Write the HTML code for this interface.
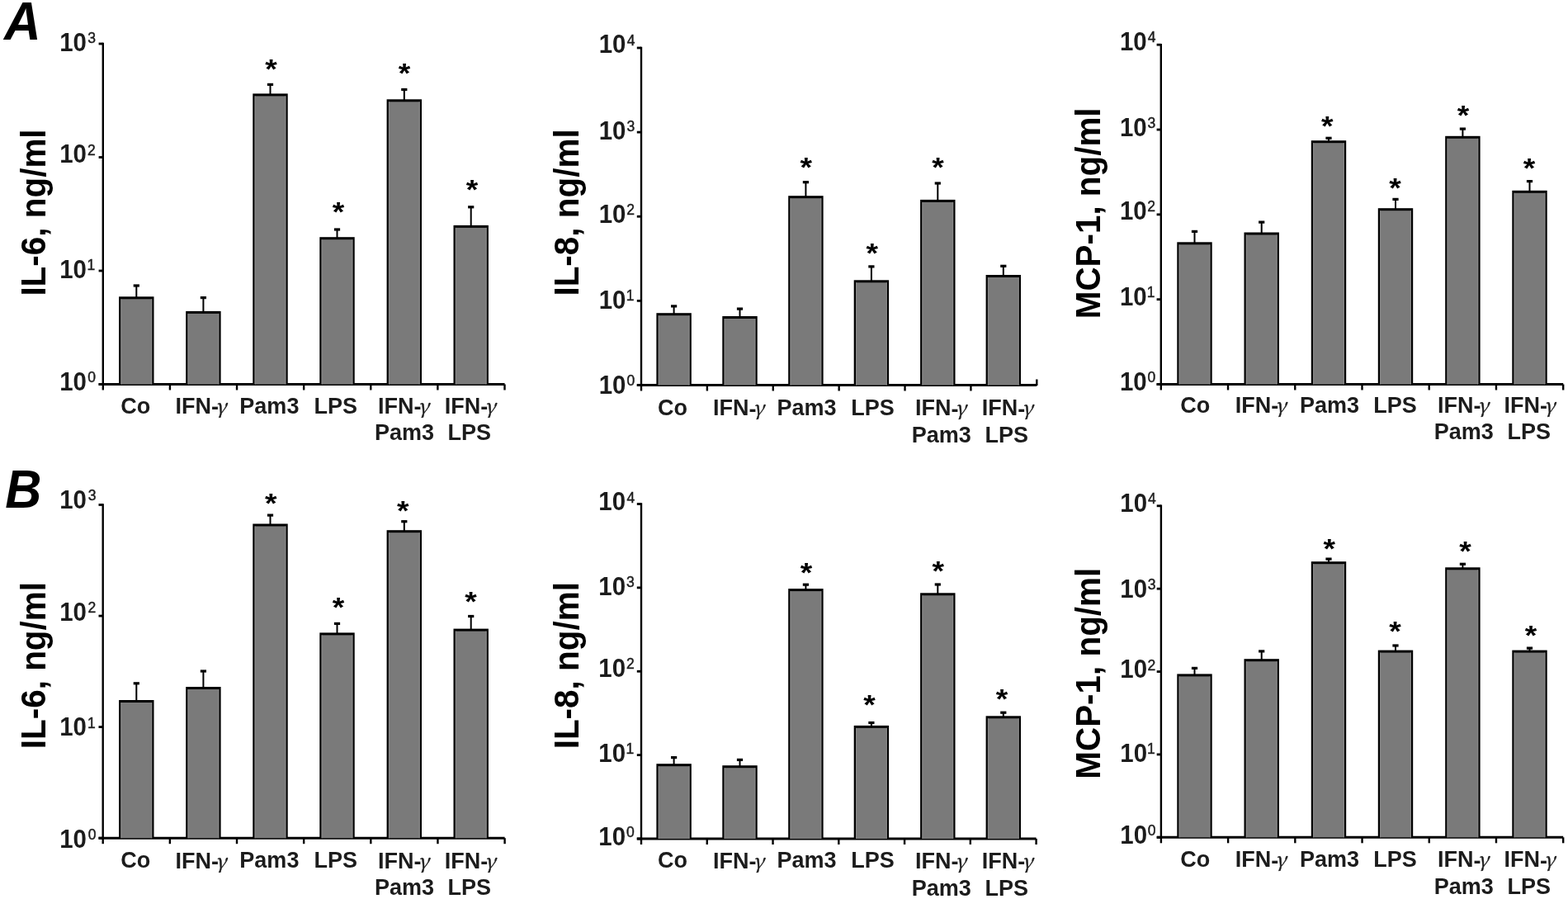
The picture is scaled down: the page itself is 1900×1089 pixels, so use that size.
<!DOCTYPE html>
<html><head><meta charset="utf-8"><title>Cytokine bar charts</title>
<style>html,body{margin:0;padding:0;background:#fff;} svg{display:block;} text{font-family:'Liberation Sans', Arial, Helvetica, sans-serif;}</style>
</head><body>
<svg width="1900" height="1089" viewBox="0 0 1900 1089">
<rect width="1900" height="1089" fill="#fff"/>
<line x1="124.80" y1="51.80" x2="124.80" y2="465.50" stroke="#000" stroke-width="2.4"/>
<line x1="119.60" y1="53.00" x2="124.80" y2="53.00" stroke="#000" stroke-width="2.8"/>
<line x1="119.60" y1="190.50" x2="124.80" y2="190.50" stroke="#000" stroke-width="2.8"/>
<line x1="119.60" y1="328.00" x2="124.80" y2="328.00" stroke="#000" stroke-width="2.8"/>
<line x1="119.60" y1="465.50" x2="124.80" y2="465.50" stroke="#000" stroke-width="2.8"/>
<line x1="119.60" y1="465.50" x2="611.50" y2="465.50" stroke="#000" stroke-width="3.0"/>
<line x1="124.80" y1="465.50" x2="124.80" y2="472.50" stroke="#000" stroke-width="2.4"/>
<line x1="205.92" y1="465.50" x2="205.92" y2="472.50" stroke="#000" stroke-width="2.4"/>
<line x1="287.03" y1="465.50" x2="287.03" y2="472.50" stroke="#000" stroke-width="2.4"/>
<line x1="368.15" y1="465.50" x2="368.15" y2="472.50" stroke="#000" stroke-width="2.4"/>
<line x1="449.27" y1="465.50" x2="449.27" y2="472.50" stroke="#000" stroke-width="2.4"/>
<line x1="530.38" y1="465.50" x2="530.38" y2="472.50" stroke="#000" stroke-width="2.4"/>
<line x1="611.50" y1="465.50" x2="611.50" y2="472.50" stroke="#000" stroke-width="2.4"/>
<line x1="165.30" y1="346.00" x2="165.30" y2="360.30" stroke="#000" stroke-width="2.0"/>
<rect x="161.70" y="344.40" width="7.20" height="3.20" fill="#000"/>
<rect x="144.10" y="359.30" width="42.40" height="106.20" fill="#000"/>
<rect x="146.40" y="362.30" width="37.80" height="103.20" fill="#7a7a7a"/>
<rect x="146.40" y="362.30" width="1.1" height="103.20" fill="#888"/>
<rect x="183.10" y="362.30" width="1.1" height="103.20" fill="#888"/>
<line x1="246.40" y1="360.60" x2="246.40" y2="377.90" stroke="#000" stroke-width="2.0"/>
<rect x="242.80" y="359.00" width="7.20" height="3.20" fill="#000"/>
<rect x="225.20" y="376.90" width="42.40" height="88.60" fill="#000"/>
<rect x="227.50" y="379.90" width="37.80" height="85.60" fill="#7a7a7a"/>
<rect x="227.50" y="379.90" width="1.1" height="85.60" fill="#888"/>
<rect x="264.20" y="379.90" width="1.1" height="85.60" fill="#888"/>
<line x1="327.50" y1="102.40" x2="327.50" y2="114.40" stroke="#000" stroke-width="2.0"/>
<rect x="323.90" y="100.80" width="7.20" height="3.20" fill="#000"/>
<rect x="306.30" y="113.40" width="42.40" height="352.10" fill="#000"/>
<rect x="308.60" y="116.40" width="37.80" height="349.10" fill="#7a7a7a"/>
<rect x="308.60" y="116.40" width="1.1" height="349.10" fill="#888"/>
<rect x="345.30" y="116.40" width="1.1" height="349.10" fill="#888"/>
<text transform="translate(321.13,95.12) scale(1.05,0.96)" font-size="35.5" font-weight="bold" fill="#000">*</text>
<line x1="408.50" y1="278.00" x2="408.50" y2="288.20" stroke="#000" stroke-width="2.0"/>
<rect x="404.90" y="276.40" width="7.20" height="3.20" fill="#000"/>
<rect x="387.30" y="287.20" width="42.40" height="178.30" fill="#000"/>
<rect x="389.60" y="290.20" width="37.80" height="175.30" fill="#7a7a7a"/>
<rect x="389.60" y="290.20" width="1.1" height="175.30" fill="#888"/>
<rect x="426.30" y="290.20" width="1.1" height="175.30" fill="#888"/>
<text transform="translate(402.63,267.52) scale(1.05,0.96)" font-size="35.5" font-weight="bold" fill="#000">*</text>
<line x1="489.80" y1="108.50" x2="489.80" y2="121.30" stroke="#000" stroke-width="2.0"/>
<rect x="486.20" y="106.90" width="7.20" height="3.20" fill="#000"/>
<rect x="468.60" y="120.30" width="42.40" height="345.20" fill="#000"/>
<rect x="470.90" y="123.30" width="37.80" height="342.20" fill="#7a7a7a"/>
<rect x="470.90" y="123.30" width="1.1" height="342.20" fill="#888"/>
<rect x="507.60" y="123.30" width="1.1" height="342.20" fill="#888"/>
<text transform="translate(482.63,100.32) scale(1.05,0.96)" font-size="35.5" font-weight="bold" fill="#000">*</text>
<line x1="570.70" y1="250.80" x2="570.70" y2="273.90" stroke="#000" stroke-width="2.0"/>
<rect x="567.10" y="249.20" width="7.20" height="3.20" fill="#000"/>
<rect x="549.50" y="272.90" width="42.40" height="192.60" fill="#000"/>
<rect x="551.80" y="275.90" width="37.80" height="189.60" fill="#7a7a7a"/>
<rect x="551.80" y="275.90" width="1.1" height="189.60" fill="#888"/>
<rect x="588.50" y="275.90" width="1.1" height="189.60" fill="#888"/>
<text transform="translate(564.83,241.02) scale(1.05,0.96)" font-size="35.5" font-weight="bold" fill="#000">*</text>
<text transform="translate(72.13,61.59) scale(0.95,1)" font-size="31.0" font-weight="bold" fill="#1c1c1c">10</text>
<text x="106.20" y="51.73" font-size="17.5" font-weight="normal" fill="#1c1c1c" stroke="#1c1c1c" stroke-width="0.45">3</text>
<text transform="translate(72.13,197.19) scale(0.95,1)" font-size="31.0" font-weight="bold" fill="#1c1c1c">10</text>
<text x="106.03" y="187.50" font-size="17.5" font-weight="normal" fill="#1c1c1c" stroke="#1c1c1c" stroke-width="0.45">2</text>
<text transform="translate(72.13,336.89) scale(0.95,1)" font-size="31.0" font-weight="bold" fill="#1c1c1c">10</text>
<text x="105.50" y="327.20" font-size="17.5" font-weight="normal" fill="#1c1c1c" stroke="#1c1c1c" stroke-width="0.45">1</text>
<text transform="translate(72.13,472.89) scale(0.95,1)" font-size="31.0" font-weight="bold" fill="#1c1c1c">10</text>
<text x="106.20" y="463.02" font-size="17.5" font-weight="normal" fill="#1c1c1c" stroke="#1c1c1c" stroke-width="0.45">0</text>
<text x="146.24" y="500.50" font-size="27.0" font-weight="bold" font-style="normal" fill="#1c1c1c">Co</text>
<text x="212.60" y="500.80" font-size="27.0" font-weight="bold" fill="#1c1c1c">IFN<tspan dy="1.5">-</tspan><tspan dy="-1.5" dx="-4" font-family="'Noto Serif CJK SC', 'Liberation Serif', serif" font-style="italic" font-weight="normal" font-size="24.5" stroke="#1c1c1c" stroke-width="0.5">γ</tspan></text>
<text x="290.35" y="500.50" font-size="27.0" font-weight="bold" font-style="normal" fill="#1c1c1c">Pam3</text>
<text x="380.41" y="500.50" font-size="27.0" font-weight="bold" font-style="normal" fill="#1c1c1c">LPS</text>
<text x="458.00" y="500.80" font-size="27.0" font-weight="bold" fill="#1c1c1c">IFN<tspan dy="1.5">-</tspan><tspan dy="-1.5" dx="-4" font-family="'Noto Serif CJK SC', 'Liberation Serif', serif" font-style="italic" font-weight="normal" font-size="24.5" stroke="#1c1c1c" stroke-width="0.5">γ</tspan></text>
<text x="453.95" y="533.10" font-size="27.0" font-weight="bold" font-style="normal" fill="#1c1c1c">Pam3</text>
<text x="538.80" y="500.80" font-size="27.0" font-weight="bold" fill="#1c1c1c">IFN<tspan dy="1.5">-</tspan><tspan dy="-1.5" dx="-4" font-family="'Noto Serif CJK SC', 'Liberation Serif', serif" font-style="italic" font-weight="normal" font-size="24.5" stroke="#1c1c1c" stroke-width="0.5">γ</tspan></text>
<text x="542.61" y="533.10" font-size="27.0" font-weight="bold" font-style="normal" fill="#1c1c1c">LPS</text>
<text transform="translate(54.50,358.62) rotate(-90) scale(1,1.035)" x="0" y="0" font-size="40.45" font-weight="bold" fill="#000">IL-6, ng/ml</text>
<line x1="777.00" y1="56.80" x2="777.00" y2="466.50" stroke="#000" stroke-width="2.4"/>
<line x1="771.80" y1="58.00" x2="777.00" y2="58.00" stroke="#000" stroke-width="2.8"/>
<line x1="771.80" y1="160.12" x2="777.00" y2="160.12" stroke="#000" stroke-width="2.8"/>
<line x1="771.80" y1="262.25" x2="777.00" y2="262.25" stroke="#000" stroke-width="2.8"/>
<line x1="771.80" y1="364.38" x2="777.00" y2="364.38" stroke="#000" stroke-width="2.8"/>
<line x1="771.80" y1="466.50" x2="777.00" y2="466.50" stroke="#000" stroke-width="2.8"/>
<line x1="771.80" y1="466.50" x2="1256.30" y2="466.50" stroke="#000" stroke-width="3.0"/>
<line x1="777.00" y1="466.50" x2="777.00" y2="473.50" stroke="#000" stroke-width="2.4"/>
<line x1="856.88" y1="466.50" x2="856.88" y2="473.50" stroke="#000" stroke-width="2.4"/>
<line x1="936.77" y1="466.50" x2="936.77" y2="473.50" stroke="#000" stroke-width="2.4"/>
<line x1="1016.65" y1="466.50" x2="1016.65" y2="473.50" stroke="#000" stroke-width="2.4"/>
<line x1="1096.53" y1="466.50" x2="1096.53" y2="473.50" stroke="#000" stroke-width="2.4"/>
<line x1="1176.42" y1="466.50" x2="1176.42" y2="473.50" stroke="#000" stroke-width="2.4"/>
<line x1="1256.30" y1="459.50" x2="1256.30" y2="467.00" stroke="#000" stroke-width="2.4"/>
<line x1="816.60" y1="370.90" x2="816.60" y2="380.20" stroke="#000" stroke-width="2.0"/>
<rect x="813.00" y="369.30" width="7.20" height="3.20" fill="#000"/>
<rect x="795.40" y="379.20" width="42.40" height="87.30" fill="#000"/>
<rect x="797.70" y="382.20" width="37.80" height="84.30" fill="#7a7a7a"/>
<rect x="797.70" y="382.20" width="1.1" height="84.30" fill="#888"/>
<rect x="834.40" y="382.20" width="1.1" height="84.30" fill="#888"/>
<line x1="896.50" y1="374.10" x2="896.50" y2="384.00" stroke="#000" stroke-width="2.0"/>
<rect x="892.90" y="372.50" width="7.20" height="3.20" fill="#000"/>
<rect x="875.30" y="383.00" width="42.40" height="83.50" fill="#000"/>
<rect x="877.60" y="386.00" width="37.80" height="80.50" fill="#7a7a7a"/>
<rect x="877.60" y="386.00" width="1.1" height="80.50" fill="#888"/>
<rect x="914.30" y="386.00" width="1.1" height="80.50" fill="#888"/>
<line x1="976.40" y1="220.70" x2="976.40" y2="238.20" stroke="#000" stroke-width="2.0"/>
<rect x="972.80" y="219.10" width="7.20" height="3.20" fill="#000"/>
<rect x="955.20" y="237.20" width="42.40" height="229.30" fill="#000"/>
<rect x="957.50" y="240.20" width="37.80" height="226.30" fill="#7a7a7a"/>
<rect x="957.50" y="240.20" width="1.1" height="226.30" fill="#888"/>
<rect x="994.20" y="240.20" width="1.1" height="226.30" fill="#888"/>
<text transform="translate(969.58,214.42) scale(1.05,0.96)" font-size="35.5" font-weight="bold" fill="#000">*</text>
<line x1="1055.90" y1="322.90" x2="1055.90" y2="340.30" stroke="#000" stroke-width="2.0"/>
<rect x="1052.30" y="321.30" width="7.20" height="3.20" fill="#000"/>
<rect x="1034.70" y="339.30" width="42.40" height="127.20" fill="#000"/>
<rect x="1037.00" y="342.30" width="37.80" height="124.20" fill="#7a7a7a"/>
<rect x="1037.00" y="342.30" width="1.1" height="124.20" fill="#888"/>
<rect x="1073.70" y="342.30" width="1.1" height="124.20" fill="#888"/>
<text transform="translate(1049.53,318.42) scale(1.05,0.96)" font-size="35.5" font-weight="bold" fill="#000">*</text>
<line x1="1136.30" y1="222.00" x2="1136.30" y2="242.90" stroke="#000" stroke-width="2.0"/>
<rect x="1132.70" y="220.40" width="7.20" height="3.20" fill="#000"/>
<rect x="1115.10" y="241.90" width="42.40" height="224.60" fill="#000"/>
<rect x="1117.40" y="244.90" width="37.80" height="221.60" fill="#7a7a7a"/>
<rect x="1117.40" y="244.90" width="1.1" height="221.60" fill="#888"/>
<rect x="1154.10" y="244.90" width="1.1" height="221.60" fill="#888"/>
<text transform="translate(1129.18,214.42) scale(1.05,0.96)" font-size="35.5" font-weight="bold" fill="#000">*</text>
<line x1="1215.80" y1="322.30" x2="1215.80" y2="334.00" stroke="#000" stroke-width="2.0"/>
<rect x="1212.20" y="320.70" width="7.20" height="3.20" fill="#000"/>
<rect x="1194.60" y="333.00" width="42.40" height="133.50" fill="#000"/>
<rect x="1196.90" y="336.00" width="37.80" height="130.50" fill="#7a7a7a"/>
<rect x="1196.90" y="336.00" width="1.1" height="130.50" fill="#888"/>
<rect x="1233.60" y="336.00" width="1.1" height="130.50" fill="#888"/>
<text transform="translate(725.63,64.49) scale(0.95,1)" font-size="31.0" font-weight="bold" fill="#1c1c1c">10</text>
<text x="759.75" y="54.97" font-size="17.5" font-weight="normal" fill="#1c1c1c" stroke="#1c1c1c" stroke-width="0.45">4</text>
<text transform="translate(725.63,168.89) scale(0.95,1)" font-size="31.0" font-weight="bold" fill="#1c1c1c">10</text>
<text x="759.40" y="159.02" font-size="17.5" font-weight="normal" fill="#1c1c1c" stroke="#1c1c1c" stroke-width="0.45">3</text>
<text transform="translate(725.63,269.99) scale(0.95,1)" font-size="31.0" font-weight="bold" fill="#1c1c1c">10</text>
<text x="759.23" y="260.30" font-size="17.5" font-weight="normal" fill="#1c1c1c" stroke="#1c1c1c" stroke-width="0.45">2</text>
<text transform="translate(725.63,374.09) scale(0.95,1)" font-size="31.0" font-weight="bold" fill="#1c1c1c">10</text>
<text x="758.70" y="364.40" font-size="17.5" font-weight="normal" fill="#1c1c1c" stroke="#1c1c1c" stroke-width="0.45">1</text>
<text transform="translate(725.63,476.89) scale(0.95,1)" font-size="31.0" font-weight="bold" fill="#1c1c1c">10</text>
<text x="759.40" y="467.02" font-size="17.5" font-weight="normal" fill="#1c1c1c" stroke="#1c1c1c" stroke-width="0.45">0</text>
<text x="797.04" y="502.80" font-size="27.0" font-weight="bold" font-style="normal" fill="#1c1c1c">Co</text>
<text x="863.95" y="503.10" font-size="27.0" font-weight="bold" fill="#1c1c1c">IFN<tspan dy="1.5">-</tspan><tspan dy="-1.5" dx="-4" font-family="'Noto Serif CJK SC', 'Liberation Serif', serif" font-style="italic" font-weight="normal" font-size="24.5" stroke="#1c1c1c" stroke-width="0.5">γ</tspan></text>
<text x="941.55" y="502.80" font-size="27.0" font-weight="bold" font-style="normal" fill="#1c1c1c">Pam3</text>
<text x="1031.15" y="502.80" font-size="27.0" font-weight="bold" font-style="normal" fill="#1c1c1c">LPS</text>
<text x="1108.95" y="503.10" font-size="27.0" font-weight="bold" fill="#1c1c1c">IFN<tspan dy="1.5">-</tspan><tspan dy="-1.5" dx="-4" font-family="'Noto Serif CJK SC', 'Liberation Serif', serif" font-style="italic" font-weight="normal" font-size="24.5" stroke="#1c1c1c" stroke-width="0.5">γ</tspan></text>
<text x="1104.70" y="535.90" font-size="27.0" font-weight="bold" font-style="normal" fill="#1c1c1c">Pam3</text>
<text x="1189.65" y="503.10" font-size="27.0" font-weight="bold" fill="#1c1c1c">IFN<tspan dy="1.5">-</tspan><tspan dy="-1.5" dx="-4" font-family="'Noto Serif CJK SC', 'Liberation Serif', serif" font-style="italic" font-weight="normal" font-size="24.5" stroke="#1c1c1c" stroke-width="0.5">γ</tspan></text>
<text x="1193.61" y="535.90" font-size="27.0" font-weight="bold" font-style="normal" fill="#1c1c1c">LPS</text>
<text transform="translate(701.30,358.57) rotate(-90) scale(1,1.035)" x="0" y="0" font-size="40.45" font-weight="bold" fill="#000">IL-8, ng/ml</text>
<line x1="1406.80" y1="53.00" x2="1406.80" y2="465.50" stroke="#000" stroke-width="2.4"/>
<line x1="1401.60" y1="54.20" x2="1406.80" y2="54.20" stroke="#000" stroke-width="2.8"/>
<line x1="1401.60" y1="157.03" x2="1406.80" y2="157.03" stroke="#000" stroke-width="2.8"/>
<line x1="1401.60" y1="259.85" x2="1406.80" y2="259.85" stroke="#000" stroke-width="2.8"/>
<line x1="1401.60" y1="362.68" x2="1406.80" y2="362.68" stroke="#000" stroke-width="2.8"/>
<line x1="1401.60" y1="465.50" x2="1406.80" y2="465.50" stroke="#000" stroke-width="2.8"/>
<line x1="1401.60" y1="465.50" x2="1894.20" y2="465.50" stroke="#000" stroke-width="3.0"/>
<line x1="1406.80" y1="465.50" x2="1406.80" y2="472.50" stroke="#000" stroke-width="2.4"/>
<line x1="1488.03" y1="465.50" x2="1488.03" y2="472.50" stroke="#000" stroke-width="2.4"/>
<line x1="1569.27" y1="465.50" x2="1569.27" y2="472.50" stroke="#000" stroke-width="2.4"/>
<line x1="1650.50" y1="465.50" x2="1650.50" y2="472.50" stroke="#000" stroke-width="2.4"/>
<line x1="1731.73" y1="465.50" x2="1731.73" y2="472.50" stroke="#000" stroke-width="2.4"/>
<line x1="1812.97" y1="465.50" x2="1812.97" y2="472.50" stroke="#000" stroke-width="2.4"/>
<line x1="1894.20" y1="465.50" x2="1894.20" y2="472.50" stroke="#000" stroke-width="2.4"/>
<line x1="1447.50" y1="280.40" x2="1447.50" y2="294.30" stroke="#000" stroke-width="2.0"/>
<rect x="1443.90" y="278.80" width="7.20" height="3.20" fill="#000"/>
<rect x="1426.30" y="293.30" width="42.40" height="172.20" fill="#000"/>
<rect x="1428.60" y="296.30" width="37.80" height="169.20" fill="#7a7a7a"/>
<rect x="1428.60" y="296.30" width="1.1" height="169.20" fill="#888"/>
<rect x="1465.30" y="296.30" width="1.1" height="169.20" fill="#888"/>
<line x1="1528.70" y1="269.10" x2="1528.70" y2="282.50" stroke="#000" stroke-width="2.0"/>
<rect x="1525.10" y="267.50" width="7.20" height="3.20" fill="#000"/>
<rect x="1507.50" y="281.50" width="42.40" height="184.00" fill="#000"/>
<rect x="1509.80" y="284.50" width="37.80" height="181.00" fill="#7a7a7a"/>
<rect x="1509.80" y="284.50" width="1.1" height="181.00" fill="#888"/>
<rect x="1546.50" y="284.50" width="1.1" height="181.00" fill="#888"/>
<line x1="1610.00" y1="167.30" x2="1610.00" y2="171.20" stroke="#000" stroke-width="2.0"/>
<rect x="1606.40" y="165.70" width="7.20" height="3.20" fill="#000"/>
<rect x="1588.80" y="170.20" width="42.40" height="295.30" fill="#000"/>
<rect x="1591.10" y="173.20" width="37.80" height="292.30" fill="#7a7a7a"/>
<rect x="1591.10" y="173.20" width="1.1" height="292.30" fill="#888"/>
<rect x="1627.80" y="173.20" width="1.1" height="292.30" fill="#888"/>
<text transform="translate(1600.93,163.52) scale(1.05,0.96)" font-size="35.5" font-weight="bold" fill="#000">*</text>
<line x1="1691.00" y1="241.40" x2="1691.00" y2="253.20" stroke="#000" stroke-width="2.0"/>
<rect x="1687.40" y="239.80" width="7.20" height="3.20" fill="#000"/>
<rect x="1669.80" y="252.20" width="42.40" height="213.30" fill="#000"/>
<rect x="1672.10" y="255.20" width="37.80" height="210.30" fill="#7a7a7a"/>
<rect x="1672.10" y="255.20" width="1.1" height="210.30" fill="#888"/>
<rect x="1708.80" y="255.20" width="1.1" height="210.30" fill="#888"/>
<text transform="translate(1683.23,238.52) scale(1.05,0.96)" font-size="35.5" font-weight="bold" fill="#000">*</text>
<line x1="1772.40" y1="156.10" x2="1772.40" y2="165.80" stroke="#000" stroke-width="2.0"/>
<rect x="1768.80" y="154.50" width="7.20" height="3.20" fill="#000"/>
<rect x="1751.20" y="164.80" width="42.40" height="300.70" fill="#000"/>
<rect x="1753.50" y="167.80" width="37.80" height="297.70" fill="#7a7a7a"/>
<rect x="1753.50" y="167.80" width="1.1" height="297.70" fill="#888"/>
<rect x="1790.20" y="167.80" width="1.1" height="297.70" fill="#888"/>
<text transform="translate(1765.73,151.22) scale(1.05,0.96)" font-size="35.5" font-weight="bold" fill="#000">*</text>
<line x1="1853.50" y1="219.60" x2="1853.50" y2="231.80" stroke="#000" stroke-width="2.0"/>
<rect x="1849.90" y="218.00" width="7.20" height="3.20" fill="#000"/>
<rect x="1832.30" y="230.80" width="42.40" height="234.70" fill="#000"/>
<rect x="1834.60" y="233.80" width="37.80" height="231.70" fill="#7a7a7a"/>
<rect x="1834.60" y="233.80" width="1.1" height="231.70" fill="#888"/>
<rect x="1871.30" y="233.80" width="1.1" height="231.70" fill="#888"/>
<text transform="translate(1845.63,214.72) scale(1.05,0.96)" font-size="35.5" font-weight="bold" fill="#000">*</text>
<text transform="translate(1356.93,60.69) scale(0.95,1)" font-size="31.0" font-weight="bold" fill="#1c1c1c">10</text>
<text x="1390.85" y="51.17" font-size="17.5" font-weight="normal" fill="#1c1c1c" stroke="#1c1c1c" stroke-width="0.45">4</text>
<text transform="translate(1356.93,164.89) scale(0.95,1)" font-size="31.0" font-weight="bold" fill="#1c1c1c">10</text>
<text x="1390.50" y="155.02" font-size="17.5" font-weight="normal" fill="#1c1c1c" stroke="#1c1c1c" stroke-width="0.45">3</text>
<text transform="translate(1356.93,265.79) scale(0.95,1)" font-size="31.0" font-weight="bold" fill="#1c1c1c">10</text>
<text x="1390.33" y="256.10" font-size="17.5" font-weight="normal" fill="#1c1c1c" stroke="#1c1c1c" stroke-width="0.45">2</text>
<text transform="translate(1356.93,369.89) scale(0.95,1)" font-size="31.0" font-weight="bold" fill="#1c1c1c">10</text>
<text x="1389.80" y="360.20" font-size="17.5" font-weight="normal" fill="#1c1c1c" stroke="#1c1c1c" stroke-width="0.45">1</text>
<text transform="translate(1356.93,472.59) scale(0.95,1)" font-size="31.0" font-weight="bold" fill="#1c1c1c">10</text>
<text x="1390.50" y="462.72" font-size="17.5" font-weight="normal" fill="#1c1c1c" stroke="#1c1c1c" stroke-width="0.45">0</text>
<text x="1430.35" y="499.50" font-size="27.0" font-weight="bold" font-style="normal" fill="#1c1c1c">Co</text>
<text x="1496.75" y="499.80" font-size="27.0" font-weight="bold" fill="#1c1c1c">IFN<tspan dy="1.5">-</tspan><tspan dy="-1.5" dx="-4" font-family="'Noto Serif CJK SC', 'Liberation Serif', serif" font-style="italic" font-weight="normal" font-size="24.5" stroke="#1c1c1c" stroke-width="0.5">γ</tspan></text>
<text x="1574.95" y="499.50" font-size="27.0" font-weight="bold" font-style="normal" fill="#1c1c1c">Pam3</text>
<text x="1664.15" y="499.50" font-size="27.0" font-weight="bold" font-style="normal" fill="#1c1c1c">LPS</text>
<text x="1741.95" y="499.80" font-size="27.0" font-weight="bold" fill="#1c1c1c">IFN<tspan dy="1.5">-</tspan><tspan dy="-1.5" dx="-4" font-family="'Noto Serif CJK SC', 'Liberation Serif', serif" font-style="italic" font-weight="normal" font-size="24.5" stroke="#1c1c1c" stroke-width="0.5">γ</tspan></text>
<text x="1737.80" y="532.00" font-size="27.0" font-weight="bold" font-style="normal" fill="#1c1c1c">Pam3</text>
<text x="1822.50" y="499.80" font-size="27.0" font-weight="bold" fill="#1c1c1c">IFN<tspan dy="1.5">-</tspan><tspan dy="-1.5" dx="-4" font-family="'Noto Serif CJK SC', 'Liberation Serif', serif" font-style="italic" font-weight="normal" font-size="24.5" stroke="#1c1c1c" stroke-width="0.5">γ</tspan></text>
<text x="1826.50" y="532.00" font-size="27.0" font-weight="bold" font-style="normal" fill="#1c1c1c">LPS</text>
<text transform="translate(1332.60,386.27) rotate(-90) scale(1,1.035)" x="0" y="0" font-size="40.4" font-weight="bold" fill="#000">MCP-1, ng/ml</text>
<line x1="124.70" y1="610.30" x2="124.70" y2="1015.20" stroke="#000" stroke-width="2.4"/>
<line x1="119.50" y1="611.50" x2="124.70" y2="611.50" stroke="#000" stroke-width="2.8"/>
<line x1="119.50" y1="746.07" x2="124.70" y2="746.07" stroke="#000" stroke-width="2.8"/>
<line x1="119.50" y1="880.63" x2="124.70" y2="880.63" stroke="#000" stroke-width="2.8"/>
<line x1="119.50" y1="1015.20" x2="124.70" y2="1015.20" stroke="#000" stroke-width="2.8"/>
<line x1="119.50" y1="1015.20" x2="611.60" y2="1015.20" stroke="#000" stroke-width="3.0"/>
<line x1="124.70" y1="1015.20" x2="124.70" y2="1022.20" stroke="#000" stroke-width="2.4"/>
<line x1="205.85" y1="1015.20" x2="205.85" y2="1022.20" stroke="#000" stroke-width="2.4"/>
<line x1="287.00" y1="1015.20" x2="287.00" y2="1022.20" stroke="#000" stroke-width="2.4"/>
<line x1="368.15" y1="1015.20" x2="368.15" y2="1022.20" stroke="#000" stroke-width="2.4"/>
<line x1="449.30" y1="1015.20" x2="449.30" y2="1022.20" stroke="#000" stroke-width="2.4"/>
<line x1="530.45" y1="1015.20" x2="530.45" y2="1022.20" stroke="#000" stroke-width="2.4"/>
<line x1="611.60" y1="1015.20" x2="611.60" y2="1022.20" stroke="#000" stroke-width="2.4"/>
<line x1="165.30" y1="827.80" x2="165.30" y2="849.00" stroke="#000" stroke-width="2.0"/>
<rect x="161.70" y="826.20" width="7.20" height="3.20" fill="#000"/>
<rect x="144.10" y="848.00" width="42.40" height="167.20" fill="#000"/>
<rect x="146.40" y="851.00" width="37.80" height="164.20" fill="#7a7a7a"/>
<rect x="146.40" y="851.00" width="1.1" height="164.20" fill="#888"/>
<rect x="183.10" y="851.00" width="1.1" height="164.20" fill="#888"/>
<line x1="246.40" y1="813.00" x2="246.40" y2="833.00" stroke="#000" stroke-width="2.0"/>
<rect x="242.80" y="811.40" width="7.20" height="3.20" fill="#000"/>
<rect x="225.20" y="832.00" width="42.40" height="183.20" fill="#000"/>
<rect x="227.50" y="835.00" width="37.80" height="180.20" fill="#7a7a7a"/>
<rect x="227.50" y="835.00" width="1.1" height="180.20" fill="#888"/>
<rect x="264.20" y="835.00" width="1.1" height="180.20" fill="#888"/>
<line x1="327.50" y1="624.10" x2="327.50" y2="635.50" stroke="#000" stroke-width="2.0"/>
<rect x="323.90" y="622.50" width="7.20" height="3.20" fill="#000"/>
<rect x="306.30" y="634.50" width="42.40" height="380.70" fill="#000"/>
<rect x="308.60" y="637.50" width="37.80" height="377.70" fill="#7a7a7a"/>
<rect x="308.60" y="637.50" width="1.1" height="377.70" fill="#888"/>
<rect x="345.30" y="637.50" width="1.1" height="377.70" fill="#888"/>
<text transform="translate(320.98,620.62) scale(1.05,0.96)" font-size="35.5" font-weight="bold" fill="#000">*</text>
<line x1="408.50" y1="755.40" x2="408.50" y2="767.40" stroke="#000" stroke-width="2.0"/>
<rect x="404.90" y="753.80" width="7.20" height="3.20" fill="#000"/>
<rect x="387.30" y="766.40" width="42.40" height="248.80" fill="#000"/>
<rect x="389.60" y="769.40" width="37.80" height="245.80" fill="#7a7a7a"/>
<rect x="389.60" y="769.40" width="1.1" height="245.80" fill="#888"/>
<rect x="426.30" y="769.40" width="1.1" height="245.80" fill="#888"/>
<text transform="translate(402.83,746.52) scale(1.05,0.96)" font-size="35.5" font-weight="bold" fill="#000">*</text>
<line x1="489.80" y1="631.70" x2="489.80" y2="643.20" stroke="#000" stroke-width="2.0"/>
<rect x="486.20" y="630.10" width="7.20" height="3.20" fill="#000"/>
<rect x="468.60" y="642.20" width="42.40" height="373.00" fill="#000"/>
<rect x="470.90" y="645.20" width="37.80" height="370.00" fill="#7a7a7a"/>
<rect x="470.90" y="645.20" width="1.1" height="370.00" fill="#888"/>
<rect x="507.60" y="645.20" width="1.1" height="370.00" fill="#888"/>
<text transform="translate(480.88,630.42) scale(1.05,0.96)" font-size="35.5" font-weight="bold" fill="#000">*</text>
<line x1="570.70" y1="746.50" x2="570.70" y2="762.60" stroke="#000" stroke-width="2.0"/>
<rect x="567.10" y="744.90" width="7.20" height="3.20" fill="#000"/>
<rect x="549.50" y="761.60" width="42.40" height="253.60" fill="#000"/>
<rect x="551.80" y="764.60" width="37.80" height="250.60" fill="#7a7a7a"/>
<rect x="551.80" y="764.60" width="1.1" height="250.60" fill="#888"/>
<rect x="588.50" y="764.60" width="1.1" height="250.60" fill="#888"/>
<text transform="translate(563.33,739.52) scale(1.05,0.96)" font-size="35.5" font-weight="bold" fill="#000">*</text>
<text transform="translate(72.23,615.79) scale(0.95,1)" font-size="31.0" font-weight="bold" fill="#1c1c1c">10</text>
<text x="106.70" y="605.93" font-size="17.5" font-weight="normal" fill="#1c1c1c" stroke="#1c1c1c" stroke-width="0.45">3</text>
<text transform="translate(72.23,751.59) scale(0.95,1)" font-size="31.0" font-weight="bold" fill="#1c1c1c">10</text>
<text x="106.53" y="741.90" font-size="17.5" font-weight="normal" fill="#1c1c1c" stroke="#1c1c1c" stroke-width="0.45">2</text>
<text transform="translate(72.23,891.19) scale(0.95,1)" font-size="31.0" font-weight="bold" fill="#1c1c1c">10</text>
<text x="106.00" y="881.50" font-size="17.5" font-weight="normal" fill="#1c1c1c" stroke="#1c1c1c" stroke-width="0.45">1</text>
<text transform="translate(72.23,1027.09) scale(0.95,1)" font-size="31.0" font-weight="bold" fill="#1c1c1c">10</text>
<text x="106.70" y="1017.23" font-size="17.5" font-weight="normal" fill="#1c1c1c" stroke="#1c1c1c" stroke-width="0.45">0</text>
<text x="146.24" y="1051.40" font-size="27.0" font-weight="bold" font-style="normal" fill="#1c1c1c">Co</text>
<text x="212.60" y="1051.70" font-size="27.0" font-weight="bold" fill="#1c1c1c">IFN<tspan dy="1.5">-</tspan><tspan dy="-1.5" dx="-4" font-family="'Noto Serif CJK SC', 'Liberation Serif', serif" font-style="italic" font-weight="normal" font-size="24.5" stroke="#1c1c1c" stroke-width="0.5">γ</tspan></text>
<text x="290.35" y="1051.40" font-size="27.0" font-weight="bold" font-style="normal" fill="#1c1c1c">Pam3</text>
<text x="380.41" y="1051.40" font-size="27.0" font-weight="bold" font-style="normal" fill="#1c1c1c">LPS</text>
<text x="458.00" y="1051.70" font-size="27.0" font-weight="bold" fill="#1c1c1c">IFN<tspan dy="1.5">-</tspan><tspan dy="-1.5" dx="-4" font-family="'Noto Serif CJK SC', 'Liberation Serif', serif" font-style="italic" font-weight="normal" font-size="24.5" stroke="#1c1c1c" stroke-width="0.5">γ</tspan></text>
<text x="453.95" y="1084.20" font-size="27.0" font-weight="bold" font-style="normal" fill="#1c1c1c">Pam3</text>
<text x="538.80" y="1051.70" font-size="27.0" font-weight="bold" fill="#1c1c1c">IFN<tspan dy="1.5">-</tspan><tspan dy="-1.5" dx="-4" font-family="'Noto Serif CJK SC', 'Liberation Serif', serif" font-style="italic" font-weight="normal" font-size="24.5" stroke="#1c1c1c" stroke-width="0.5">γ</tspan></text>
<text x="542.61" y="1084.20" font-size="27.0" font-weight="bold" font-style="normal" fill="#1c1c1c">LPS</text>
<text transform="translate(54.50,907.23) rotate(-90) scale(1,1.035)" x="0" y="0" font-size="40.45" font-weight="bold" fill="#000">IL-6, ng/ml</text>
<line x1="777.00" y1="609.30" x2="777.00" y2="1016.00" stroke="#000" stroke-width="2.4"/>
<line x1="771.80" y1="610.50" x2="777.00" y2="610.50" stroke="#000" stroke-width="2.8"/>
<line x1="771.80" y1="711.88" x2="777.00" y2="711.88" stroke="#000" stroke-width="2.8"/>
<line x1="771.80" y1="813.25" x2="777.00" y2="813.25" stroke="#000" stroke-width="2.8"/>
<line x1="771.80" y1="914.62" x2="777.00" y2="914.62" stroke="#000" stroke-width="2.8"/>
<line x1="771.80" y1="1016.00" x2="777.00" y2="1016.00" stroke="#000" stroke-width="2.8"/>
<line x1="771.80" y1="1016.00" x2="1255.60" y2="1016.00" stroke="#000" stroke-width="3.0"/>
<line x1="777.00" y1="1016.00" x2="777.00" y2="1023.00" stroke="#000" stroke-width="2.4"/>
<line x1="856.77" y1="1016.00" x2="856.77" y2="1023.00" stroke="#000" stroke-width="2.4"/>
<line x1="936.53" y1="1016.00" x2="936.53" y2="1023.00" stroke="#000" stroke-width="2.4"/>
<line x1="1016.30" y1="1016.00" x2="1016.30" y2="1023.00" stroke="#000" stroke-width="2.4"/>
<line x1="1096.07" y1="1016.00" x2="1096.07" y2="1023.00" stroke="#000" stroke-width="2.4"/>
<line x1="1175.83" y1="1016.00" x2="1175.83" y2="1023.00" stroke="#000" stroke-width="2.4"/>
<line x1="1255.60" y1="1016.00" x2="1255.60" y2="1023.00" stroke="#000" stroke-width="2.4"/>
<line x1="816.60" y1="917.60" x2="816.60" y2="926.20" stroke="#000" stroke-width="2.0"/>
<rect x="813.00" y="916.00" width="7.20" height="3.20" fill="#000"/>
<rect x="795.40" y="925.20" width="42.40" height="90.80" fill="#000"/>
<rect x="797.70" y="928.20" width="37.80" height="87.80" fill="#7a7a7a"/>
<rect x="797.70" y="928.20" width="1.1" height="87.80" fill="#888"/>
<rect x="834.40" y="928.20" width="1.1" height="87.80" fill="#888"/>
<line x1="896.50" y1="920.40" x2="896.50" y2="928.20" stroke="#000" stroke-width="2.0"/>
<rect x="892.90" y="918.80" width="7.20" height="3.20" fill="#000"/>
<rect x="875.30" y="927.20" width="42.40" height="88.80" fill="#000"/>
<rect x="877.60" y="930.20" width="37.80" height="85.80" fill="#7a7a7a"/>
<rect x="877.60" y="930.20" width="1.1" height="85.80" fill="#888"/>
<rect x="914.30" y="930.20" width="1.1" height="85.80" fill="#888"/>
<line x1="976.40" y1="708.20" x2="976.40" y2="714.10" stroke="#000" stroke-width="2.0"/>
<rect x="972.80" y="706.60" width="7.20" height="3.20" fill="#000"/>
<rect x="955.20" y="713.10" width="42.40" height="302.90" fill="#000"/>
<rect x="957.50" y="716.10" width="37.80" height="299.90" fill="#7a7a7a"/>
<rect x="957.50" y="716.10" width="1.1" height="299.90" fill="#888"/>
<rect x="994.20" y="716.10" width="1.1" height="299.90" fill="#888"/>
<text transform="translate(969.63,705.22) scale(1.05,0.96)" font-size="35.5" font-weight="bold" fill="#000">*</text>
<line x1="1055.90" y1="875.50" x2="1055.90" y2="879.90" stroke="#000" stroke-width="2.0"/>
<rect x="1052.30" y="873.90" width="7.20" height="3.20" fill="#000"/>
<rect x="1034.70" y="878.90" width="42.40" height="137.10" fill="#000"/>
<rect x="1037.00" y="881.90" width="37.80" height="134.10" fill="#7a7a7a"/>
<rect x="1037.00" y="881.90" width="1.1" height="134.10" fill="#888"/>
<rect x="1073.70" y="881.90" width="1.1" height="134.10" fill="#888"/>
<text transform="translate(1046.33,865.32) scale(1.05,0.96)" font-size="35.5" font-weight="bold" fill="#000">*</text>
<line x1="1136.30" y1="708.00" x2="1136.30" y2="719.30" stroke="#000" stroke-width="2.0"/>
<rect x="1132.70" y="706.40" width="7.20" height="3.20" fill="#000"/>
<rect x="1115.10" y="718.30" width="42.40" height="297.70" fill="#000"/>
<rect x="1117.40" y="721.30" width="37.80" height="294.70" fill="#7a7a7a"/>
<rect x="1117.40" y="721.30" width="1.1" height="294.70" fill="#888"/>
<rect x="1154.10" y="721.30" width="1.1" height="294.70" fill="#888"/>
<text transform="translate(1129.43,702.82) scale(1.05,0.96)" font-size="35.5" font-weight="bold" fill="#000">*</text>
<line x1="1215.80" y1="863.20" x2="1215.80" y2="868.30" stroke="#000" stroke-width="2.0"/>
<rect x="1212.20" y="861.60" width="7.20" height="3.20" fill="#000"/>
<rect x="1194.60" y="867.30" width="42.40" height="148.70" fill="#000"/>
<rect x="1196.90" y="870.30" width="37.80" height="145.70" fill="#7a7a7a"/>
<rect x="1196.90" y="870.30" width="1.1" height="145.70" fill="#888"/>
<rect x="1233.60" y="870.30" width="1.1" height="145.70" fill="#888"/>
<text transform="translate(1206.73,858.12) scale(1.05,0.96)" font-size="35.5" font-weight="bold" fill="#000">*</text>
<text transform="translate(725.33,618.49) scale(0.95,1)" font-size="31.0" font-weight="bold" fill="#1c1c1c">10</text>
<text x="759.45" y="608.97" font-size="17.5" font-weight="normal" fill="#1c1c1c" stroke="#1c1c1c" stroke-width="0.45">4</text>
<text transform="translate(725.33,720.99) scale(0.95,1)" font-size="31.0" font-weight="bold" fill="#1c1c1c">10</text>
<text x="759.10" y="711.12" font-size="17.5" font-weight="normal" fill="#1c1c1c" stroke="#1c1c1c" stroke-width="0.45">3</text>
<text transform="translate(725.33,819.99) scale(0.95,1)" font-size="31.0" font-weight="bold" fill="#1c1c1c">10</text>
<text x="758.92" y="810.30" font-size="17.5" font-weight="normal" fill="#1c1c1c" stroke="#1c1c1c" stroke-width="0.45">2</text>
<text transform="translate(725.33,922.59) scale(0.95,1)" font-size="31.0" font-weight="bold" fill="#1c1c1c">10</text>
<text x="758.40" y="912.90" font-size="17.5" font-weight="normal" fill="#1c1c1c" stroke="#1c1c1c" stroke-width="0.45">1</text>
<text transform="translate(725.33,1024.19) scale(0.95,1)" font-size="31.0" font-weight="bold" fill="#1c1c1c">10</text>
<text x="759.10" y="1014.33" font-size="17.5" font-weight="normal" fill="#1c1c1c" stroke="#1c1c1c" stroke-width="0.45">0</text>
<text x="797.04" y="1051.40" font-size="27.0" font-weight="bold" font-style="normal" fill="#1c1c1c">Co</text>
<text x="863.95" y="1051.70" font-size="27.0" font-weight="bold" fill="#1c1c1c">IFN<tspan dy="1.5">-</tspan><tspan dy="-1.5" dx="-4" font-family="'Noto Serif CJK SC', 'Liberation Serif', serif" font-style="italic" font-weight="normal" font-size="24.5" stroke="#1c1c1c" stroke-width="0.5">γ</tspan></text>
<text x="941.55" y="1051.40" font-size="27.0" font-weight="bold" font-style="normal" fill="#1c1c1c">Pam3</text>
<text x="1031.15" y="1051.40" font-size="27.0" font-weight="bold" font-style="normal" fill="#1c1c1c">LPS</text>
<text x="1108.95" y="1051.70" font-size="27.0" font-weight="bold" fill="#1c1c1c">IFN<tspan dy="1.5">-</tspan><tspan dy="-1.5" dx="-4" font-family="'Noto Serif CJK SC', 'Liberation Serif', serif" font-style="italic" font-weight="normal" font-size="24.5" stroke="#1c1c1c" stroke-width="0.5">γ</tspan></text>
<text x="1104.70" y="1084.70" font-size="27.0" font-weight="bold" font-style="normal" fill="#1c1c1c">Pam3</text>
<text x="1189.65" y="1051.70" font-size="27.0" font-weight="bold" fill="#1c1c1c">IFN<tspan dy="1.5">-</tspan><tspan dy="-1.5" dx="-4" font-family="'Noto Serif CJK SC', 'Liberation Serif', serif" font-style="italic" font-weight="normal" font-size="24.5" stroke="#1c1c1c" stroke-width="0.5">γ</tspan></text>
<text x="1193.61" y="1084.70" font-size="27.0" font-weight="bold" font-style="normal" fill="#1c1c1c">LPS</text>
<text transform="translate(701.30,907.33) rotate(-90) scale(1,1.035)" x="0" y="0" font-size="40.45" font-weight="bold" fill="#000">IL-8, ng/ml</text>
<line x1="1406.90" y1="611.60" x2="1406.90" y2="1014.30" stroke="#000" stroke-width="2.4"/>
<line x1="1401.70" y1="612.80" x2="1406.90" y2="612.80" stroke="#000" stroke-width="2.8"/>
<line x1="1401.70" y1="713.17" x2="1406.90" y2="713.17" stroke="#000" stroke-width="2.8"/>
<line x1="1401.70" y1="813.55" x2="1406.90" y2="813.55" stroke="#000" stroke-width="2.8"/>
<line x1="1401.70" y1="913.92" x2="1406.90" y2="913.92" stroke="#000" stroke-width="2.8"/>
<line x1="1401.70" y1="1014.30" x2="1406.90" y2="1014.30" stroke="#000" stroke-width="2.8"/>
<line x1="1401.70" y1="1014.30" x2="1894.20" y2="1014.30" stroke="#000" stroke-width="3.0"/>
<line x1="1406.90" y1="1014.30" x2="1406.90" y2="1021.30" stroke="#000" stroke-width="2.4"/>
<line x1="1488.12" y1="1014.30" x2="1488.12" y2="1021.30" stroke="#000" stroke-width="2.4"/>
<line x1="1569.33" y1="1014.30" x2="1569.33" y2="1021.30" stroke="#000" stroke-width="2.4"/>
<line x1="1650.55" y1="1014.30" x2="1650.55" y2="1021.30" stroke="#000" stroke-width="2.4"/>
<line x1="1731.77" y1="1014.30" x2="1731.77" y2="1021.30" stroke="#000" stroke-width="2.4"/>
<line x1="1812.98" y1="1014.30" x2="1812.98" y2="1021.30" stroke="#000" stroke-width="2.4"/>
<line x1="1894.20" y1="1014.30" x2="1894.20" y2="1021.30" stroke="#000" stroke-width="2.4"/>
<line x1="1447.50" y1="809.40" x2="1447.50" y2="817.40" stroke="#000" stroke-width="2.0"/>
<rect x="1443.90" y="807.80" width="7.20" height="3.20" fill="#000"/>
<rect x="1426.30" y="816.40" width="42.40" height="197.90" fill="#000"/>
<rect x="1428.60" y="819.40" width="37.80" height="194.90" fill="#7a7a7a"/>
<rect x="1428.60" y="819.40" width="1.1" height="194.90" fill="#888"/>
<rect x="1465.30" y="819.40" width="1.1" height="194.90" fill="#888"/>
<line x1="1528.70" y1="788.90" x2="1528.70" y2="799.20" stroke="#000" stroke-width="2.0"/>
<rect x="1525.10" y="787.30" width="7.20" height="3.20" fill="#000"/>
<rect x="1507.50" y="798.20" width="42.40" height="216.10" fill="#000"/>
<rect x="1509.80" y="801.20" width="37.80" height="213.10" fill="#7a7a7a"/>
<rect x="1509.80" y="801.20" width="1.1" height="213.10" fill="#888"/>
<rect x="1546.50" y="801.20" width="1.1" height="213.10" fill="#888"/>
<line x1="1610.00" y1="677.10" x2="1610.00" y2="681.20" stroke="#000" stroke-width="2.0"/>
<rect x="1606.40" y="675.50" width="7.20" height="3.20" fill="#000"/>
<rect x="1588.80" y="680.20" width="42.40" height="334.10" fill="#000"/>
<rect x="1591.10" y="683.20" width="37.80" height="331.10" fill="#7a7a7a"/>
<rect x="1591.10" y="683.20" width="1.1" height="331.10" fill="#888"/>
<rect x="1627.80" y="683.20" width="1.1" height="331.10" fill="#888"/>
<text transform="translate(1603.53,676.22) scale(1.05,0.96)" font-size="35.5" font-weight="bold" fill="#000">*</text>
<line x1="1691.00" y1="782.00" x2="1691.00" y2="788.60" stroke="#000" stroke-width="2.0"/>
<rect x="1687.40" y="780.40" width="7.20" height="3.20" fill="#000"/>
<rect x="1669.80" y="787.60" width="42.40" height="226.70" fill="#000"/>
<rect x="1672.10" y="790.60" width="37.80" height="223.70" fill="#7a7a7a"/>
<rect x="1672.10" y="790.60" width="1.1" height="223.70" fill="#888"/>
<rect x="1708.80" y="790.60" width="1.1" height="223.70" fill="#888"/>
<text transform="translate(1683.23,775.72) scale(1.05,0.96)" font-size="35.5" font-weight="bold" fill="#000">*</text>
<line x1="1772.40" y1="683.30" x2="1772.40" y2="688.30" stroke="#000" stroke-width="2.0"/>
<rect x="1768.80" y="681.70" width="7.20" height="3.20" fill="#000"/>
<rect x="1751.20" y="687.30" width="42.40" height="327.00" fill="#000"/>
<rect x="1753.50" y="690.30" width="37.80" height="324.00" fill="#7a7a7a"/>
<rect x="1753.50" y="690.30" width="1.1" height="324.00" fill="#888"/>
<rect x="1790.20" y="690.30" width="1.1" height="324.00" fill="#888"/>
<text transform="translate(1768.13,678.82) scale(1.05,0.96)" font-size="35.5" font-weight="bold" fill="#000">*</text>
<line x1="1853.50" y1="785.10" x2="1853.50" y2="788.60" stroke="#000" stroke-width="2.0"/>
<rect x="1849.90" y="783.50" width="7.20" height="3.20" fill="#000"/>
<rect x="1832.30" y="787.60" width="42.40" height="226.70" fill="#000"/>
<rect x="1834.60" y="790.60" width="37.80" height="223.70" fill="#7a7a7a"/>
<rect x="1834.60" y="790.60" width="1.1" height="223.70" fill="#888"/>
<rect x="1871.30" y="790.60" width="1.1" height="223.70" fill="#888"/>
<text transform="translate(1847.83,780.52) scale(1.05,0.96)" font-size="35.5" font-weight="bold" fill="#000">*</text>
<text transform="translate(1357.33,619.89) scale(0.95,1)" font-size="31.0" font-weight="bold" fill="#1c1c1c">10</text>
<text x="1391.05" y="610.38" font-size="17.5" font-weight="normal" fill="#1c1c1c" stroke="#1c1c1c" stroke-width="0.45">4</text>
<text transform="translate(1357.33,724.19) scale(0.95,1)" font-size="31.0" font-weight="bold" fill="#1c1c1c">10</text>
<text x="1390.70" y="714.33" font-size="17.5" font-weight="normal" fill="#1c1c1c" stroke="#1c1c1c" stroke-width="0.45">3</text>
<text transform="translate(1357.33,821.49) scale(0.95,1)" font-size="31.0" font-weight="bold" fill="#1c1c1c">10</text>
<text x="1390.53" y="811.80" font-size="17.5" font-weight="normal" fill="#1c1c1c" stroke="#1c1c1c" stroke-width="0.45">2</text>
<text transform="translate(1357.33,922.69) scale(0.95,1)" font-size="31.0" font-weight="bold" fill="#1c1c1c">10</text>
<text x="1390.00" y="913.00" font-size="17.5" font-weight="normal" fill="#1c1c1c" stroke="#1c1c1c" stroke-width="0.45">1</text>
<text transform="translate(1357.33,1021.99) scale(0.95,1)" font-size="31.0" font-weight="bold" fill="#1c1c1c">10</text>
<text x="1390.70" y="1012.12" font-size="17.5" font-weight="normal" fill="#1c1c1c" stroke="#1c1c1c" stroke-width="0.45">0</text>
<text x="1430.35" y="1050.00" font-size="27.0" font-weight="bold" font-style="normal" fill="#1c1c1c">Co</text>
<text x="1496.75" y="1050.30" font-size="27.0" font-weight="bold" fill="#1c1c1c">IFN<tspan dy="1.5">-</tspan><tspan dy="-1.5" dx="-4" font-family="'Noto Serif CJK SC', 'Liberation Serif', serif" font-style="italic" font-weight="normal" font-size="24.5" stroke="#1c1c1c" stroke-width="0.5">γ</tspan></text>
<text x="1574.95" y="1050.00" font-size="27.0" font-weight="bold" font-style="normal" fill="#1c1c1c">Pam3</text>
<text x="1664.15" y="1050.00" font-size="27.0" font-weight="bold" font-style="normal" fill="#1c1c1c">LPS</text>
<text x="1741.95" y="1050.30" font-size="27.0" font-weight="bold" fill="#1c1c1c">IFN<tspan dy="1.5">-</tspan><tspan dy="-1.5" dx="-4" font-family="'Noto Serif CJK SC', 'Liberation Serif', serif" font-style="italic" font-weight="normal" font-size="24.5" stroke="#1c1c1c" stroke-width="0.5">γ</tspan></text>
<text x="1737.80" y="1082.60" font-size="27.0" font-weight="bold" font-style="normal" fill="#1c1c1c">Pam3</text>
<text x="1822.50" y="1050.30" font-size="27.0" font-weight="bold" fill="#1c1c1c">IFN<tspan dy="1.5">-</tspan><tspan dy="-1.5" dx="-4" font-family="'Noto Serif CJK SC', 'Liberation Serif', serif" font-style="italic" font-weight="normal" font-size="24.5" stroke="#1c1c1c" stroke-width="0.5">γ</tspan></text>
<text x="1826.50" y="1082.60" font-size="27.0" font-weight="bold" font-style="normal" fill="#1c1c1c">LPS</text>
<text transform="translate(1332.80,943.67) rotate(-90) scale(1,1.035)" x="0" y="0" font-size="40.4" font-weight="bold" fill="#000">MCP-1, ng/ml</text>
<text transform="translate(4.99,48.45) scale(0.965,1.01)" font-size="64.0" font-weight="bold" font-style="italic" fill="#000">A</text>
<text transform="translate(6.31,615.00) scale(0.955,1.0)" font-size="64.0" font-weight="bold" font-style="italic" fill="#000">B</text>
</svg>
</body></html>
